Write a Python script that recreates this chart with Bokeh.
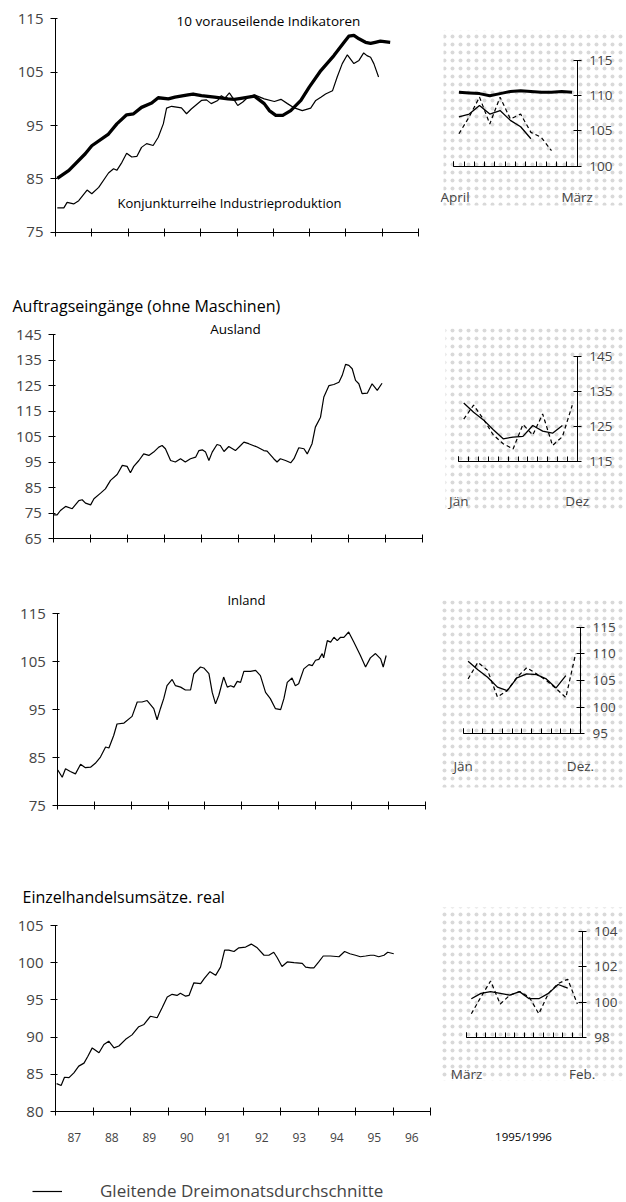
from bokeh.plotting import figure
from bokeh.layouts import column, row
from bokeh.models import Range1d, FixedTicker, Label, BoxAnnotation, Legend, LegendItem
from bokeh.embed import file_html
from bokeh.resources import INLINE

FONT = "Open Sans"

# ---------------- data ----------------
years = list(range(1987, 1998))
year_labels = ["87", "88", "89", "90", "91", "92", "93", "94", "95", "96"]

# Panel 1: 10 vorauseilende Indikatoren (thick)
lead_x = [1987.05, 1987.37, 1987.82, 1988.00, 1988.46, 1988.69, 1988.96, 1989.15, 1989.37, 1989.65,
          1989.83, 1990.11, 1990.29, 1990.65, 1990.79, 1991.02, 1991.38, 1991.75, 1991.93, 1992.11,
          1992.48, 1992.75, 1992.89, 1993.07, 1993.26, 1993.48, 1993.76, 1993.99, 1994.31, 1994.67,
          1994.95, 1995.08, 1995.22, 1995.36, 1995.54, 1995.68, 1995.81, 1995.95, 1996.22]
lead_y = [85.1, 86.6, 89.7, 91.2, 93.4, 95.3, 97.0, 97.2, 98.4, 99.2,
          100.2, 100.0, 100.3, 100.75, 100.9, 100.6, 100.3, 100.0, 99.9, 100.1,
          100.5, 99.1, 97.8, 96.9, 96.9, 97.8, 99.7, 102.2, 105.3, 108.1,
          110.6, 111.75, 111.9, 111.25, 110.6, 110.4, 110.6, 110.8, 110.6]

# Panel 1: Konjunkturreihe Industrieproduktion (thin)
ip_x = [1987.05, 1987.23, 1987.32, 1987.50, 1987.64, 1987.87, 1988.00, 1988.19, 1988.46, 1988.60,
        1988.69, 1988.83, 1988.96, 1989.10, 1989.24, 1989.37, 1989.51, 1989.69, 1989.83, 1989.97,
        1990.06, 1990.20, 1990.47, 1990.61, 1990.74, 1991.02, 1991.16, 1991.29, 1991.47, 1991.57,
        1991.66, 1991.79, 1991.93, 1992.02, 1992.16, 1992.30, 1992.48, 1992.75, 1993.03, 1993.21,
        1993.39, 1993.58, 1993.80, 1994.03, 1994.17, 1994.31, 1994.44, 1994.63, 1994.76, 1994.90,
        1995.04, 1995.22, 1995.36, 1995.49, 1995.58, 1995.68, 1995.77, 1995.90]
ip_y = [79.55, 79.55, 80.6, 80.3, 80.9, 82.9, 82.2, 83.4, 86.1, 86.9,
        86.6, 88.1, 89.8, 89.1, 89.2, 90.9, 91.6, 91.25, 92.8, 95.3,
        98.25, 98.6, 98.3, 97.2, 98.1, 99.7, 99.8, 99.1, 99.7, 100.6,
        100.1, 101.1, 99.7, 98.75, 99.4, 100.3, 100.75, 100.0, 99.5, 99.9,
        99.1, 98.3, 97.8, 98.25, 99.7, 100.3, 100.9, 101.5, 104.1, 106.6,
        108.25, 106.6, 107.2, 108.6, 108.1, 107.8, 106.6, 104.1]

# Panel 2: Auftragseingaenge Ausland
aus_x = [1987.00, 1987.09, 1987.18, 1987.32, 1987.50, 1987.68, 1987.77, 1987.86, 1988.00, 1988.09,
         1988.27, 1988.40, 1988.54, 1988.72, 1988.86, 1988.99, 1989.08, 1989.17, 1989.31, 1989.44,
         1989.58, 1989.71, 1989.85, 1989.94, 1990.03, 1990.17, 1990.30, 1990.44, 1990.57, 1990.71,
         1990.85, 1990.94, 1991.03, 1991.12, 1991.21, 1991.30, 1991.43, 1991.52, 1991.62, 1991.75,
         1991.93, 1992.07, 1992.16, 1992.29, 1992.52, 1992.70, 1992.79, 1992.97, 1993.06, 1993.15,
         1993.29, 1993.43, 1993.52, 1993.65, 1993.79, 1993.88, 1994.01, 1994.10, 1994.24, 1994.33,
         1994.47, 1994.60, 1994.74, 1994.83, 1994.92, 1995.01, 1995.10, 1995.19, 1995.28, 1995.37,
         1995.51, 1995.64, 1995.78, 1995.91]
aus_y = [74.4, 74.4, 76.1, 77.7, 76.8, 80.0, 80.3, 79.0, 78.3, 80.7,
         82.9, 84.6, 87.9, 90.2, 93.8, 93.4, 90.9, 93.4, 95.7, 98.3,
         97.7, 99.0, 100.95, 101.6, 100.3, 95.7, 95.1, 96.4, 95.1, 96.4,
         97.0, 99.6, 99.9, 99.0, 95.7, 99.0, 102.0, 101.6, 99.25, 101.2,
         99.6, 101.6, 102.9, 102.3, 101.0, 99.6, 99.4, 96.4, 95.1, 96.4,
         95.7, 94.8, 96.4, 100.7, 100.3, 98.3, 102.3, 108.8, 112.7, 120.6,
         125.1, 125.5, 126.4, 129.1, 133.4, 133.0, 131.7, 127.1, 125.8, 121.9,
         122.1, 125.8, 123.2, 126.0]

# Panel 3: Auftragseingaenge Inland
inl_x = [1987.00, 1987.12, 1987.21, 1987.34, 1987.48, 1987.62, 1987.75, 1987.89, 1988.02, 1988.16,
         1988.30, 1988.39, 1988.52, 1988.61, 1988.80, 1989.02, 1989.16, 1989.29, 1989.43, 1989.61,
         1989.70, 1989.79, 1989.88, 1989.97, 1990.11, 1990.20, 1990.34, 1990.47, 1990.61, 1990.70,
         1990.88, 1990.97, 1991.11, 1991.20, 1991.29, 1991.38, 1991.51, 1991.61, 1991.70, 1991.79,
         1991.88, 1991.97, 1992.06, 1992.24, 1992.38, 1992.51, 1992.65, 1992.78, 1992.92, 1993.06,
         1993.15, 1993.24, 1993.37, 1993.46, 1993.55, 1993.69, 1993.83, 1993.92, 1994.01, 1994.10,
         1994.19, 1994.23, 1994.33, 1994.42, 1994.51, 1994.60, 1994.69, 1994.78, 1994.91, 1995.05,
         1995.23, 1995.37, 1995.50, 1995.64, 1995.78, 1995.85, 1995.93]
inl_y = [82.4, 80.9, 82.65, 82.1, 81.6, 83.6, 82.9, 83.0, 83.8, 85.1,
         87.2, 87.0, 89.6, 92.0, 92.2, 93.6, 96.6, 96.6, 96.9, 95.2,
         92.9, 95.2, 97.3, 100.0, 101.3, 100.0, 99.7, 99.1, 99.1, 102.5,
         103.9, 103.7, 102.5, 98.6, 96.2, 98.0, 101.8, 99.7, 100.0, 99.7,
         100.9, 100.7, 103.0, 103.0, 103.2, 102.1, 98.6, 97.3, 95.2, 95.0,
         97.3, 100.7, 101.6, 100.0, 100.4, 103.5, 104.4, 104.2, 105.3, 105.5,
         106.7, 105.8, 109.4, 109.1, 110.1, 109.4, 110.1, 110.1, 111.2, 109.1,
         106.3, 103.9, 105.8, 106.7, 105.6, 103.9, 106.3]

# Panel 4: Einzelhandelsumsaetze, real
ezh_x = [1987.03, 1987.15, 1987.24, 1987.36, 1987.49, 1987.62, 1987.76, 1987.86, 1987.98, 1988.16,
         1988.29, 1988.42, 1988.56, 1988.69, 1988.87, 1989.04, 1989.22, 1989.36, 1989.53, 1989.71,
         1989.84, 1989.98, 1990.11, 1990.24, 1990.33, 1990.47, 1990.56, 1990.69, 1990.87, 1990.97,
         1991.12, 1991.27, 1991.40, 1991.51, 1991.62, 1991.76, 1991.89, 1992.07, 1992.22, 1992.38,
         1992.56, 1992.69, 1992.82, 1992.91, 1993.04, 1993.18, 1993.36, 1993.58, 1993.67, 1993.80,
         1993.89, 1994.02, 1994.14, 1994.33, 1994.56, 1994.71, 1994.85, 1995.00, 1995.13, 1995.27,
         1995.40, 1995.49, 1995.62, 1995.76, 1995.86, 1996.02]
ezh_y = [83.75, 83.5, 84.6, 84.55, 85.2, 86.1, 86.5, 87.4, 88.55, 87.9,
         89.0, 89.45, 88.55, 88.8, 89.7, 90.3, 91.4, 91.7, 92.8, 92.6,
         93.9, 95.4, 95.75, 95.6, 95.9, 95.5, 95.6, 97.3, 97.2, 97.9,
         98.8, 98.3, 99.4, 101.7, 101.7, 101.5, 102.0, 102.1, 102.5, 102.0,
         101.0, 101.0, 101.4, 100.7, 99.5, 100.1, 100.0, 99.9, 99.4, 99.3,
         99.3, 100.1, 100.9, 100.9, 100.8, 101.5, 101.2, 101.0, 100.8, 100.9,
         101.0, 101.0, 100.8, 101.0, 101.4, 101.2]

# Small panels: 12 month slots (values plotted at slot centres)
months = [i + 0.5 for i in range(12)]
r1_lead = [110.5, 110.4, 110.3, 110.0, 110.3, 110.6, 110.7, 110.6, 110.5, 110.5, 110.6, 110.5]
r1_avg = [107.0, 107.4, 108.6, 107.4, 107.9, 106.5, 105.6, 103.9]
r1_mon = [104.6, 107.0, 109.8, 106.0, 109.8, 106.7, 107.4, 104.8, 104.1, 102.2]
r2_avg = [131.6, 129.0, 126.8, 124.0, 121.4, 121.9, 122.1, 125.2, 123.6, 123.0, 125.2]
r2_mon = [127.0, 131.0, 127.0, 122.5, 120.0, 118.5, 125.5, 122.5, 128.5, 119.5, 122.0, 131.0]
r3_avg = [108.6, 107.0, 105.6, 103.75, 103.1, 105.5, 106.25, 106.1, 105.3, 103.6, 105.9]
r3_mon = [105.3, 108.4, 106.9, 101.9, 103.1, 105.6, 107.4, 106.25, 105.0, 103.5, 101.8, 110.0]
r4_avg = [100.2, 100.5, 100.6, 100.5, 100.4, 100.6, 100.2, 100.2, 100.5, 101.0, 100.8]
r4_mon = [99.35, 100.3, 101.2, 99.9, 100.4, 100.6, 100.3, 99.35, 100.5, 101.05, 101.3, 99.9]


# ---------------- layout helpers ----------------
def make_fig(img_left, img_top, w, h, xa, xb, pxa, pxb, ya, yb, pya, pyb, yloc="left"):
    """Figure whose frame fills the canvas; data xa/xb sit at page px pxa/pxb, ya/yb at pya/pyb."""
    sx = (pxb - pxa) / (xb - xa)
    sy = (pyb - pya) / (yb - ya)
    x0 = xa + (img_left - pxa) / sx
    x1 = xa + (img_left + w - pxa) / sx
    y0 = ya + (img_top + h - pya) / sy
    y1 = ya + (img_top - pya) / sy
    p = figure(width=w, height=h, x_range=Range1d(x0, x1), y_range=Range1d(y0, y1),
               y_axis_location=yloc, min_border=0,
               output_backend="svg", toolbar_location=None)
    p.outline_line_color = None
    p.xgrid.visible = False
    p.ygrid.visible = False
    p.background_fill_color = "white"
    p.border_fill_color = "white"

    def fx(px):
        return xa + (px - pxa) / sx

    def fy(py):
        return ya + (py - pya) / sy
    return p, fx, fy


def add_text(p, x, y, text, size, align="left"):
    p.add_layout(Label(x=x, y=y, text=text, text_font=FONT, text_font_size=size,
                       text_align=align, text_baseline="middle", text_color="black"))


def style_left(p, yr, yticks, labels=False):
    xa = p.xaxis[0]
    xa.fixed_location = yr[0]
    xa.bounds = (1987, 1997)
    if labels:
        xa.ticker = FixedTicker(ticks=[y + 0.5 for y in years[:-1]], minor_ticks=years)
        xa.major_label_overrides = {y + 0.5: lab for y, lab in zip(years, year_labels)}
        xa.major_label_text_font = FONT
        xa.major_label_text_font_size = "12px"
        xa.major_label_standoff = 17
    else:
        xa.ticker = FixedTicker(ticks=[], minor_ticks=years)
    xa.major_tick_in = 0
    xa.major_tick_out = 0
    xa.minor_tick_in = 4
    xa.minor_tick_out = 4
    xa.minor_tick_line_color = "black"
    xa.axis_line_color = "black"
    ya = p.yaxis[0]
    ya.fixed_location = 1987
    ya.bounds = yr
    ya.ticker = FixedTicker(ticks=yticks)
    ya.major_tick_out = 5
    ya.major_tick_in = 2
    ya.minor_tick_line_color = None
    ya.axis_line_color = "black"
    ya.major_label_text_font = FONT
    ya.major_label_text_font_size = "15px"
    ya.major_label_standoff = 7


def style_right(p, fx, fy, yr, yticks, start_lab, end_lab, standoff, stip):
    p.add_layout(BoxAnnotation(left=fx(stip[0]), right=fx(stip[1]), top=fy(stip[2]),
                               bottom=fy(stip[3]), fill_alpha=0, line_alpha=0,
                               hatch_pattern="dot", hatch_color="#666666", hatch_scale=8,
                               hatch_weight=0.5, hatch_alpha=0.25, level="underlay"))
    xa = p.xaxis[0]
    xa.fixed_location = yr[0]
    xa.bounds = (0, 12)
    xa.ticker = FixedTicker(ticks=[0, 12], minor_ticks=list(range(13)))
    xa.major_label_overrides = {0: start_lab, 12: end_lab}
    xa.major_tick_in = 5
    xa.major_tick_out = 0
    xa.minor_tick_in = 5
    xa.minor_tick_out = 0
    xa.minor_tick_line_color = "black"
    xa.major_label_text_font = FONT
    xa.major_label_text_font_size = "13.5px"
    xa.major_label_standoff = standoff
    ya = p.yaxis[0]
    ya.fixed_location = 12
    ya.bounds = yr
    ya.ticker = FixedTicker(ticks=yticks)
    ya.major_tick_in = 4
    ya.major_tick_out = 4
    ya.minor_tick_line_color = None
    ya.major_label_text_font = FONT
    ya.major_label_text_font_size = "13.5px"
    ya.major_label_standoff = 8


THIN = 1.2
DASH = "4 3"
LW, RW = 440, 186   # left / right column widths (page px)

# ---------------- row 1 (page y 0..262) ----------------
L1, fx, fy = make_fig(0, 0, LW, 262, 1987, 1997, 55, 418, 115, 75, 18.3, 231.7)
style_left(L1, (75, 115), [75, 85, 95, 105, 115])
L1.line(lead_x, lead_y, line_color="black", line_width=3.3, line_join="round")
L1.line(ip_x, ip_y, line_color="black", line_width=THIN)
add_text(L1, fx(268), fy(20), "10 vorauseilende Indikatoren", "13.5px", "center")
add_text(L1, fx(229), fy(202), "Konjunkturreihe Industrieproduktion", "13px", "center")

R1, fx, fy = make_fig(LW, 0, RW, 262, 0, 12, 453.3, 576.7, 115, 100, 60, 165.7, "right")
style_right(R1, fx, fy, (100, 115), [100, 105, 110, 115], "April", "März", 22, (443, 626, 30, 205))
R1.line(months, r1_lead, line_color="black", line_width=3.0, line_join="round")
R1.line(months[:len(r1_avg)], r1_avg, line_color="black", line_width=1.3)
R1.line(months[:len(r1_mon)], r1_mon, line_color="black", line_width=THIN, line_dash=DASH)

# ---------------- row 2 (page y 262..550) ----------------
L2, fx, fy = make_fig(0, 262, LW, 288, 1987, 1997, 53.3, 421.7, 145, 65, 334.3, 538.3)
style_left(L2, (65, 145), [65, 75, 85, 95, 105, 115, 125, 135, 145])
L2.line(aus_x, aus_y, line_color="black", line_width=THIN)
add_text(L2, fx(12), fy(305), "Auftragseingänge (ohne Maschinen)", "16px", "left")
add_text(L2, fx(235), fy(328), "Ausland", "13.5px", "center")

R2, fx, fy = make_fig(LW, 262, RW, 288, 0, 12, 458.3, 576.7, 145, 115, 355.7, 460.7, "right")
style_right(R2, fx, fy, (115, 145), [115, 125, 135, 145], "Jän", "Dez", 31, (445, 626, 328, 510))
R2.line(months[:len(r2_avg)], r2_avg, line_color="black", line_width=1.3)
R2.line(months[:len(r2_mon)], r2_mon, line_color="black", line_width=THIN, line_dash=DASH)

# ---------------- row 3 (page y 550..830) ----------------
L3, fx, fy = make_fig(0, 550, LW, 280, 1987, 1997, 57.3, 425, 115, 75, 613.3, 805)
style_left(L3, (75, 115), [75, 85, 95, 105, 115])
L3.line(inl_x, inl_y, line_color="black", line_width=THIN)
add_text(L3, fx(246), fy(599), "Inland", "13px", "center")

R3, fx, fy = make_fig(LW, 550, RW, 280, 0, 12, 462.7, 580, 115, 95, 626.7, 733.3, "right")
style_right(R3, fx, fy, (95, 115), [95, 100, 105, 110, 115], "Jän", "Dez.", 23, (440, 626, 600, 787))
R3.line(months[:len(r3_avg)], r3_avg, line_color="black", line_width=1.3)
R3.line(months[:len(r3_mon)], r3_mon, line_color="black", line_width=THIN, line_dash=DASH)

# ---------------- row 4 (page y 830..1202) ----------------
L4, fx, fy = make_fig(0, 830, LW, 372, 1987, 1997, 55, 430, 105, 80, 925, 1111)
style_left(L4, (80, 105), [80, 85, 90, 95, 100, 105], labels=True)
ezh_line = L4.line(ezh_x, ezh_y, line_color="black", line_width=THIN)
add_text(L4, fx(22), fy(896), "Einzelhandelsumsätze. real", "16px", "left")
leg = Legend(items=[LegendItem(label="Gleitende Dreimonatsdurchschnitte", renderers=[ezh_line])],
             location=(32, 0), padding=0, margin=0, border_line_color=None,
             background_fill_alpha=0, glyph_width=30, glyph_height=16, label_height=16,
             label_standoff=38, label_text_font=FONT, label_text_font_size="17px")
L4.add_layout(leg, "center")

R4, fx, fy = make_fig(LW, 830, RW, 372, 0, 12, 466, 581.7, 104, 98, 930.7, 1037.3, "right")
style_right(R4, fx, fy, (98, 104), [98, 100, 102, 104], "März", "Feb.", 27, (440, 626, 907, 1080))
R4.line(months[:len(r4_avg)], r4_avg, line_color="black", line_width=1.3)
R4.line(months[:len(r4_mon)], r4_mon, line_color="black", line_width=THIN, line_dash=DASH)
add_text(R4, fx(523), fy(1136), "1995/1996", "11.5px", "center")

layout = column(row(L1, R1), row(L2, R2), row(L3, R3), row(L4, R4))

open("out.html", "w").write(file_html(layout, INLINE))
